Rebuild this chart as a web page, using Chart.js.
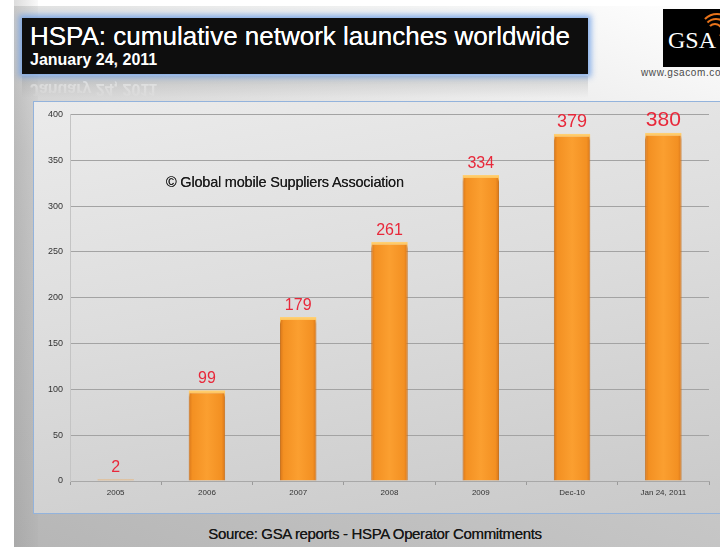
<!DOCTYPE html>
<html><head><meta charset="utf-8">
<script src="https://cdn.jsdelivr.net/npm/chart.js@4"></script>
<style>
html,body{margin:0;padding:0;}
body{width:720px;height:547px;position:relative;overflow:hidden;font-family:"Liberation Sans",Arial,sans-serif;background:#ffffff;}
#slide{position:absolute;left:14px;top:6px;width:706px;height:541px;
 background:linear-gradient(200deg,#ffffff 0%,#ececec 22%,#cdcdcd 50%,#b6b6b6 100%);}
#leftshade{position:absolute;left:14px;top:0;width:24px;height:547px;background:linear-gradient(to right,rgba(140,140,140,0.3),rgba(140,140,140,0.05));}
#titlebox{position:absolute;left:22px;top:18px;width:566px;height:56px;background:#0e0e0e;box-shadow:0 0 6px 3px rgba(110,160,230,0.85);}
#title{position:absolute;left:8px;top:3px;color:#fff;font-size:26px;white-space:nowrap;text-shadow:0 0 0.6px #fff;}
#subtitle{position:absolute;left:8px;top:33px;color:#fff;font-size:16px;font-weight:bold;white-space:nowrap;}
#reflect{position:absolute;left:30px;top:80px;color:#fff;font-size:16px;font-weight:bold;transform:scaleY(-1);opacity:0.5;white-space:nowrap;
 -webkit-mask-image:linear-gradient(to top,rgba(0,0,0,1),rgba(0,0,0,0));}
#reflbar{position:absolute;left:22px;top:76px;width:566px;height:22px;background:linear-gradient(to bottom,rgba(150,150,150,0.35),rgba(150,150,150,0));}
#logo{position:absolute;left:663px;top:9px;width:60px;height:58px;background:#000;overflow:hidden;}
#logo span{position:absolute;left:5px;top:18px;color:#fff;font-family:"Liberation Serif",serif;font-size:24px;}
.arc{position:absolute;border:2px solid transparent;border-top-color:#e8731a;border-right-color:#e8731a;border-radius:50%;}
#www{position:absolute;left:641px;top:67px;font-size:10px;color:#4a4a4a;white-space:nowrap;letter-spacing:0.6px;}
#panel{position:absolute;left:33px;top:101px;width:700px;height:411px;border:1px solid #93b3dc;
 background:linear-gradient(170deg,#ebebeb 0%,#dddddd 45%,#c9c9c9 100%);}
#cv{position:absolute;left:34px;top:102px;}
#copy{position:absolute;left:166px;top:174px;font-size:14.5px;color:#1a1a1a;letter-spacing:-0.2px;white-space:nowrap;text-shadow:0 0 0.5px #333;}
#source{position:absolute;left:0;width:750px;text-align:center;top:525px;font-size:15px;color:#161616;letter-spacing:-0.35px;white-space:nowrap;text-shadow:0 0 0.5px #333;}
</style></head>
<body>
<div id="slide"></div>
<div id="leftshade"></div>
<div id="reflbar"></div>
<div id="reflect">January 24, 2011</div>
<div id="titlebox"><div id="title">HSPA: cumulative network launches worldwide</div><div id="subtitle">January 24, 2011</div></div>
<div id="logo"><span>GSA</span>
 <div class="arc" style="left:44px;top:14px;width:12px;height:12px;"></div>
 <div class="arc" style="left:40px;top:9px;width:22px;height:22px;"></div>
 <div class="arc" style="left:36px;top:4px;width:32px;height:32px;"></div>
</div>
<div id="www">www.gsacom.com</div>
<div id="panel"></div>
<canvas id="cv" width="684" height="410" style="width:684px;height:410px;"></canvas>
<div id="copy">© Global mobile Suppliers Association</div>
<div id="source">Source: GSA reports - HSPA Operator Commitments</div>
<script>
const categories = ["2005","2006","2007","2008","2009","Dec-10","Jan 24, 2011"];
const launches = [2, 99, 179, 261, 334, 379, 380];
const yTicks = [0, 50, 100, 150, 200, 250, 300, 350, 400];

const LABEL_SIZES = [16,16,16,16,16,18,21];

function barFill(ctx){
  const chart = ctx.chart;
  const xs = chart.scales.x;
  if(!xs || !chart.chartArea || ctx.dataIndex === undefined) return '#f7941d';
  if(ctx.dataIndex === 0) return '#e9b274';
  const cx = xs.getPixelForValue(ctx.dataIndex);
  const w = (chart.chartArea.right - chart.chartArea.left) / categories.length * 0.4;
  const g = chart.ctx.createLinearGradient(cx - w/2, 0, cx + w/2, 0);
  g.addColorStop(0, '#d8761a');
  g.addColorStop(0.1, '#f39022');
  g.addColorStop(0.5, '#fb9f30');
  g.addColorStop(0.9, '#f39022');
  g.addColorStop(1, '#d8761a');
  return g;
}
function barEdge(ctx){
  const chart = ctx.chart;
  const ys = chart.scales.y;
  if(!ys || ctx.dataIndex === undefined) return '#c06a18';
  if(ctx.dataIndex === 0) return '#e9b274';
  const top = ys.getPixelForValue(launches[ctx.dataIndex]);
  const g = chart.ctx.createLinearGradient(0, top, 0, top + 7);
  g.addColorStop(0, '#ffd27a');
  g.addColorStop(0.45, '#ffc45a');
  g.addColorStop(1, '#c8701a');
  return g;
}

const valueLabels = {
  id:'valueLabels',
  afterDatasetsDraw(chart){
    const c = chart.ctx;
    const meta = chart.getDatasetMeta(0);
    c.save();
    c.fillStyle = '#e8283a';
    c.textAlign = 'center';
    c.textBaseline = 'alphabetic';
    meta.data.forEach((bar, i) => {
      c.font = LABEL_SIZES[i] + 'px "Liberation Sans", Arial, sans-serif';
      c.fillText(String(launches[i]), bar.x, bar.y - 7);
    });
    c.restore();
  }
};

new Chart(document.getElementById('cv'), {
  type:'bar',
  data:{ labels:categories, datasets:[{ data:launches, backgroundColor:barFill, borderColor:barEdge, borderWidth:{left:1,right:1,top:3,bottom:0}, borderSkipped:'bottom', barPercentage:0.4, categoryPercentage:1 }]},
  options:{
    responsive:false, animation:false, devicePixelRatio:1,
    layout:{padding:{top:10,right:9,left:0,bottom:0}},
    plugins:{legend:{display:false}, tooltip:{enabled:false}},
    scales:{
      x:{ offset:true,
        grid:{display:true, drawOnChartArea:false, drawTicks:true, tickLength:4, color:'#9a9a9a'},
        border:{display:true, color:'#a8a8a8'},
        ticks:{padding:3, color:'#333', font:{size:8, family:'"Liberation Sans", Arial'}, maxRotation:0, autoSkip:false},
        afterFit(s){ s.height = 31; }
      },
      y:{ min:0, max:400,
        afterBuildTicks(s){ s.ticks = yTicks.map(v => ({value:v})); },
        grid:{color:'#a3a3a3', drawTicks:false, lineWidth:1},
        border:{display:true, color:'#c4c4c4'},
        ticks:{padding:7, color:'#333', font:{size:9, family:'"Liberation Sans", Arial'}},
        afterFit(s){ s.width = 36; }
      }
    }
  },
  plugins:[valueLabels]
});
</script>
</body></html>
